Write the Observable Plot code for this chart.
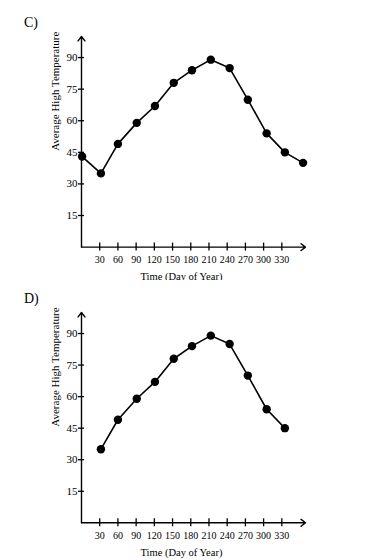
<!DOCTYPE html>
<html>
<head>
<meta charset="utf-8">
<script src="https://cdn.jsdelivr.net/npm/d3@7"></script>
<script src="https://cdn.jsdelivr.net/npm/@observablehq/plot@0.6"></script>
<style>
  html, body { margin: 0; padding: 0; background: #fff; }
  #wrap { position: relative; width: 368px; height: 560px; font-family: "Liberation Serif", "Times New Roman", serif; }
  .panel { position: absolute; left: 0; width: 368px; height: 280px; }
  .tag { position: absolute; left: 24px; font-size: 14px; color: #000; font-family: "Liberation Serif", serif; }
  svg { overflow: visible; }
</style>
</head>
<body>
<div id="wrap">
  <div class="panel" id="pc" style="top:0"></div>
  <div class="panel" id="pd" style="top:280px"></div>
  <div class="tag" style="top:15px">C)</div>
  <div class="tag" style="top:291px">D)</div>
</div>
<script>
// Data
const daysC = [1, 32, 60, 91, 121, 152, 182, 213, 244, 274, 305, 335, 365];
const tempsC = [43, 35, 49, 59, 67, 78, 84, 89, 85, 70, 54, 45, 40];
const daysD = [32, 60, 91, 121, 152, 182, 213, 244, 274, 305, 335];
const tempsD = [35, 49, 59, 67, 78, 84, 89, 85, 70, 54, 45];
const xTicks = [30, 60, 90, 120, 150, 180, 210, 240, 270, 300, 330];
const yTicks = [15, 30, 45, 60, 75, 90];
const xEnd = 369;
const yEnd = 100;
const xTitle = "Time (Day of Year)";
const yTitle = "Average High Temperature";

const font = '"Liberation Serif", "Times New Roman", serif';

function chart(days, temps, marginTop, marginBottom) {
  const pts = days.map((d, i) => ({day: d, temp: temps[i]}));
  return Plot.plot({
    width: 368,
    height: 280,
    marginLeft: 81,
    marginRight: 63,
    marginTop,
    marginBottom,
    style: {fontFamily: font, background: "white", color: "black"},
    x: {domain: [0, xEnd], axis: null},
    y: {domain: [0, yEnd], axis: null},
    marks: [
      // axes with arrowheads
      Plot.arrow([{x1: 0, y1: 0, x2: xEnd, y2: 0}], {x1: "x1", y1: "y1", x2: "x2", y2: "y2", stroke: "black", strokeWidth: 1.4, headLength: 6, headAngle: 75}),
      Plot.arrow([{x1: 0, y1: 0, x2: 0, y2: yEnd}], {x1: "x1", y1: "y1", x2: "x2", y2: "y2", stroke: "black", strokeWidth: 1.4, headLength: 6, headAngle: 75}),
      // crossing ticks
      Plot.ruleX(xTicks, {x: d => d, y1: () => 0, y2: () => 0, insetTop: 4, insetBottom: 4, stroke: "black", strokeWidth: 1.3}),
      Plot.ruleY(yTicks, {y: d => d, x1: () => 0, x2: () => 0, insetLeft: -3, insetRight: -3, stroke: "black", strokeWidth: 1.3}),
      // tick labels
      Plot.text(xTicks, {x: d => d, y: () => 0, text: d => String(d), dy: 12.5, fontSize: 10, fill: "black", lineAnchor: "middle", fontFamily: font}),
      Plot.text(yTicks, {x: () => 0, y: d => d, text: d => String(d), dx: -4, textAnchor: "end", fontSize: 11, fill: "black", lineAnchor: "middle", fontFamily: font}),
      // titles
      Plot.text([xTitle], {frameAnchor: "bottom", text: d => d, dx: -12, dy: 29.5, fontSize: 10.5, fill: "black", lineAnchor: "middle", fontFamily: font}),
      Plot.text([yTitle], {frameAnchor: "left", text: d => d, rotate: -90, dx: -26, dy: 9, fontSize: 11, fill: "black", lineAnchor: "middle", fontFamily: font}),
      // data
      Plot.line(pts, {x: "day", y: "temp", stroke: "black", strokeWidth: 1.6}),
      Plot.dot(pts, {x: "day", y: "temp", r: 4.2, fill: "black", stroke: "none"})
    ]
  });
}

document.getElementById("pc").appendChild(chart(daysC, tempsC, 36, 33.4));
document.getElementById("pd").appendChild(chart(daysD, tempsD, 32, 37.7));
</script>
</body>
</html>
